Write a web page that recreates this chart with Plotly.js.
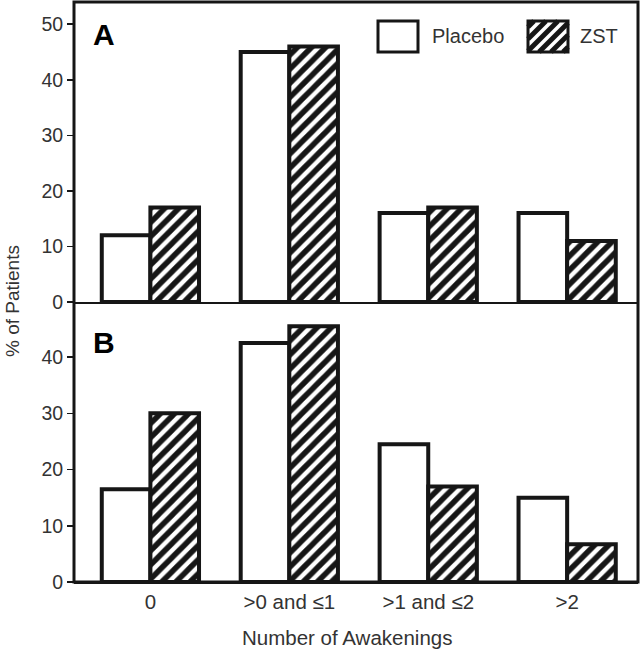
<!DOCTYPE html>
<html>
<head>
<meta charset="utf-8">
<script src="https://cdn.plot.ly/plotly-3.0.1.min.js"></script>
<style>
  body { margin: 0; background: #fff; }
  #plot { width: 641px; height: 649px; }
</style>
</head>
<body>
<div id="plot"></div>
<script>
// categorias e valores
const categories = ['0', '>0 and ≤1', '>1 and ≤2', '>2'];
const placeboA = [12, 45, 16, 16];
const zstA = [17, 46, 17, 11];
const placeboB = [16.5, 42.5, 24.5, 15];
const zstB = [30, 45.5, 17, 6.7];

const W = 641, H = 649;
const mL = 74, mR = 3, mT = 2, mB = 67;
const plotW = W - mL - mR, plotH = H - mT - mB;
const split = (582 - 302) / plotH; // fronteira entre os paineis

// converte pixels para coordenadas "paper"
const px = (x) => (x - mL) / plotW;
const py = (y) => (H - mB - y) / plotH;

const ink = '#161616';
const txt = '#333333';
const font = 'Liberation Sans, Arial, sans-serif';

function barTrace(y, xa, ya, hatched) {
  return {
    type: 'bar',
    x: categories,
    y: y,
    xaxis: xa,
    yaxis: ya,
    showlegend: false,
    hoverinfo: 'skip',
    marker: {
      color: '#ffffff',
      line: { color: ink, width: 4 },
      pattern: hatched
        ? { shape: '/', fgcolor: ink, bgcolor: '#ffffff', size: 10, solidity: 0.55 }
        : { shape: '' },
    },
  };
}

const traces = [
  barTrace(placeboA, 'x', 'y', false),
  barTrace(zstA, 'x', 'y', true),
  barTrace(placeboB, 'x2', 'y2', false),
  barTrace(zstB, 'x2', 'y2', true),
];

// legenda desenhada a mao (caixas maiores que as do Plotly)
function boxShape(x0, y0, x1, y1) {
  return {
    type: 'rect', xref: 'paper', yref: 'paper',
    x0: px(x0), x1: px(x1), y0: py(y1), y1: py(y0),
    line: { color: ink, width: 3 }, fillcolor: 'rgba(0,0,0,0)',
  };
}

function hatchShapes(x0, y0, x1, y1, step) {
  const out = [];
  // linhas "/" : y = c - x em pixels
  for (let c = x0 + y0 + step / 2; c < x1 + y1; c += step) {
    let xa = Math.max(x0, c - y1), xb = Math.min(x1, c - y0);
    if (xb <= xa) continue;
    out.push({
      type: 'line', xref: 'paper', yref: 'paper',
      x0: px(xa), y0: py(c - xa), x1: px(xb), y1: py(c - xb),
      line: { color: ink, width: 5 },
    });
  }
  return out;
}

const shapes = [
  // moldura externa
  { type: 'rect', xref: 'paper', yref: 'paper', x0: 0, x1: 1, y0: 0, y1: 1,
    line: { color: ink, width: 3 }, fillcolor: 'rgba(0,0,0,0)' },
  boxShape(378, 21, 418, 52),
  ...hatchShapes(528, 21, 568, 52, 12),
  boxShape(528, 21, 568, 52),
];

const annotations = [
  { text: '<b>A</b>', x: px(91), y: py(34), xref: 'paper', yref: 'paper', xanchor: 'left', yanchor: 'middle',
    showarrow: false, font: { family: font, size: 30, color: '#000' } },
  { text: '<b>B</b>', x: px(91), y: py(342), xref: 'paper', yref: 'paper', xanchor: 'left', yanchor: 'middle',
    showarrow: false, font: { family: font, size: 30, color: '#000' } },
  { text: 'Placebo', x: px(430), y: py(36), xref: 'paper', yref: 'paper', xanchor: 'left', yanchor: 'middle',
    showarrow: false, font: { family: font, size: 20, color: txt } },
  { text: 'ZST', x: px(578), y: py(36), xref: 'paper', yref: 'paper', xanchor: 'left', yanchor: 'middle',
    showarrow: false, font: { family: font, size: 20, color: txt } },
  { text: '% of Patients', x: px(12), y: py(301), xref: 'paper', yref: 'paper', xanchor: 'center', yanchor: 'middle',
    textangle: -90, showarrow: false, font: { family: font, size: 19, color: txt } },
  { text: 'Number of Awakenings', x: px(347), y: py(637), xref: 'paper', yref: 'paper', xanchor: 'center', yanchor: 'middle',
    showarrow: false, font: { family: font, size: 20.5, color: txt } },
];

const yCommon = {
  dtick: 10, ticks: 'outside', ticklen: 6, tickwidth: 1.5, tickcolor: ink,
  showgrid: false, zeroline: false, showline: false,
  tickfont: { family: font, size: 19.5, color: txt },
  fixedrange: true,
};

const layout = {
  width: W, height: H,
  margin: { l: mL, r: mR, t: mT, b: mB },
  paper_bgcolor: '#fff', plot_bgcolor: '#fff',
  barmode: 'group', bargap: 0.3, bargroupgap: 0,
  showlegend: false,
  xaxis: {
    domain: [0, 1], anchor: 'y', matches: 'x2', type: 'category',
    range: [-0.55, 3.51], showticklabels: false, ticks: '',
    showline: true, linecolor: ink, linewidth: 2, showgrid: false, zeroline: false,
  },
  yaxis: Object.assign({ domain: [split, 1], anchor: 'x', range: [0, 54] }, yCommon),
  xaxis2: {
    domain: [0, 1], anchor: 'y2', type: 'category',
    range: [-0.55, 3.51], ticks: '', showline: true, linecolor: ink, linewidth: 2,
    showgrid: false, zeroline: false,
    tickfont: { family: font, size: 20.5, color: txt },
  },
  yaxis2: Object.assign({ domain: [0, split], anchor: 'x2', range: [0, 49.8] }, yCommon),
  shapes: shapes,
  annotations: annotations,
  font: { family: font },
};

Plotly.newPlot('plot', traces, layout, { displayModeBar: false, staticPlot: true });
</script>
</body>
</html>
